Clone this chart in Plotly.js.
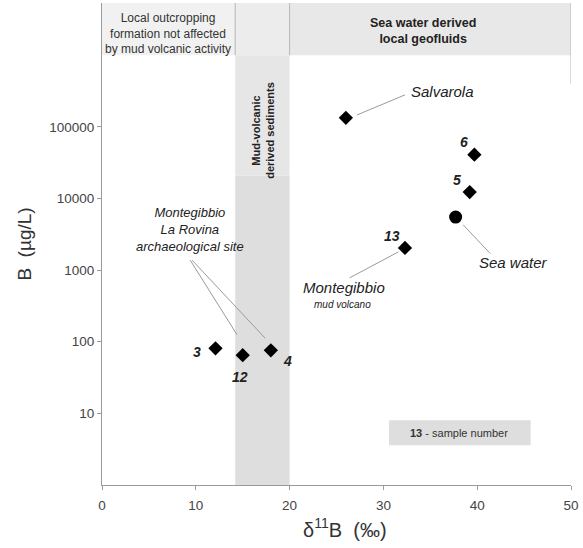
<!DOCTYPE html>
<html>
<head>
<meta charset="utf-8">
<script src="https://cdn.plot.ly/plotly-3.0.1.min.js"></script>
<style>html,body{margin:0;padding:0;background:#fff;}#chart{width:583px;height:548px;}</style>
</head>
<body>
<div id="chart"></div>
<script>
// Samples (δ11B ‰, B µg/L)
const sampleLabels = ["3", "12", "4", "13", "5", "6", "Salvarola"];
const sampleD11B = [12.1, 15.0, 18.0, 32.3, 39.2, 39.7, 26.0];
const sampleB = [81, 65, 76, 2040, 12300, 41000, 134000];
// Sea water reference
const seaD11B = [37.7];
const seaB = [5500];
// Axis ticks
const yTickVals = [10, 100, 1000, 10000, 100000];
const yTickText = ["10", "100", "1000", "10000", "100000"];
const xTickVals = [0, 10, 20, 30, 40, 50];

const FONT = "Liberation Sans, Arial, sans-serif";
const L = v => Math.log10(v);
const grey = "#9a9a9a";
const TOP = Math.pow(10, 6.73);

const traces = [
  {x: sampleD11B, y: sampleB, type: "scatter", mode: "markers",
   marker: {symbol: "diamond", size: 11, color: "#000"}, hoverinfo: "text", text: sampleLabels},
  {x: seaD11B, y: seaB, type: "scatter", mode: "markers",
   marker: {symbol: "circle", size: 13, color: "#000"}}
];

// shapes on a log axis take data values
const shapes = [
  // mud-volcanic band
  {type: "rect", xref: "x", yref: "y", x0: 14.2, x1: 20, y0: 1, y1: 21000, fillcolor: "#dedede", line: {width: 0}, layer: "below"},
  {type: "rect", xref: "x", yref: "y", x0: 14.2, x1: 20, y0: 21000, y1: 1e6, fillcolor: "#e6e6e6", line: {width: 0}, layer: "below"},
  // header boxes
  {type: "rect", xref: "x", yref: "y", x0: 0, x1: 14.2, y0: 1e6, y1: TOP, fillcolor: "#f1f1f1", line: {width: 0}, layer: "below"},
  {type: "rect", xref: "x", yref: "y", x0: 14.2, x1: 20, y0: 1e6, y1: TOP, fillcolor: "#ececec", line: {width: 0}, layer: "below"},
  {type: "rect", xref: "x", yref: "y", x0: 20, x1: 50, y0: 1e6, y1: TOP, fillcolor: "#e8e8e8", line: {width: 0}, layer: "below"},
  {type: "line", xref: "x", yref: "y", x0: 14.2, x1: 14.2, y0: 1e6, y1: TOP, line: {color: "#b5b5b5", width: 1}},
  {type: "line", xref: "x", yref: "y", x0: 20, x1: 20, y0: 1e6, y1: TOP, line: {color: "#b5b5b5", width: 1}},
  {type: "line", xref: "x", yref: "y", x0: 50, x1: 50, y0: 4e5, y1: TOP, line: {color: "#b5b5b5", width: 1}},
  // sample-number legend box
  {type: "rect", xref: "x", yref: "y", x0: 30.6, x1: 45.7, y0: 3.6, y1: 8.0, fillcolor: "#dedede", line: {width: 0}, layer: "below"},
  // leader lines
  {type: "line", xref: "x", yref: "y", x0: 27.2, y0: 147000, x1: 32.3, y1: 280000, line: {color: grey, width: 1}},
  {type: "line", xref: "x", yref: "y", x0: 38.5, y0: 4300, x1: 41.4, y1: 1700, line: {color: grey, width: 1}},
  {type: "line", xref: "x", yref: "y", x0: 31.6, y0: 1800, x1: 26.4, y1: 780, line: {color: grey, width: 1}},
  {type: "line", xref: "x", yref: "y", x0: 9.4, y0: 1380, x1: 14.4, y1: 125, line: {color: grey, width: 1}},
  {type: "line", xref: "x", yref: "y", x0: 9.6, y0: 1380, x1: 17.4, y1: 112, line: {color: grey, width: 1}}
];

const it = (txt, x, y, size, extra) => Object.assign({
  text: txt, xref: "x", yref: "y", x: x, y: y, showarrow: false,
  font: {family: FONT, size: size, color: "#222"}
}, extra || {});

// annotations on a log axis take log10 values
const annotations = [
  it("Local outcropping<br>formation not affected<br>by mud volcanic activity", 7.0, 6.31, 12, {font: {family: FONT, size: 12, color: "#333"}}),
  it("<b>Sea water derived<br>local geofluids</b>", 34.2, 6.34, 12.5, {font: {family: FONT, size: 12.5, color: "#222"}}),
  it("<b>Mud-volcanic<br>derived sediments</b>", 17.2, 4.95, 11, {textangle: -90, font: {family: FONT, size: 11, color: "#222"}}),
  it("<i>Salvarola</i>", 36.3, 5.49, 15),
  it("<i>Sea water</i>", 43.9, L(1260), 15),
  it("<i>Montegibbio</i>", 25.8, L(580), 15),
  it("<i>mud volcano</i>", 25.6, L(330), 10),
  it("<i>Montegibbio<br>La Rovina<br>archaeological site</i>", 9.4, 3.57, 13),
  it("<b><i>6</i></b>", 38.6, L(62000), 14),
  it("<b><i>5</i></b>", 37.8, L(18000), 14),
  it("<b><i>13</i></b>", 30.9, L(3000), 14),
  it("<b><i>3</i></b>", 10.1, L(72), 14),
  it("<b><i>12</i></b>", 14.7, L(32), 14),
  it("<b><i>4</i></b>", 19.8, L(54), 14),
  it("<b>13</b> - sample number", 38.1, L(5.4), 11, {font: {family: FONT, size: 11, color: "#333"}})
];

const layout = {
  width: 583, height: 548,
  margin: {l: 102, r: 12, t: 3, b: 63},
  paper_bgcolor: "#fff", plot_bgcolor: "#fff",
  showlegend: false,
  font: {family: FONT, color: "#333"},
  xaxis: {
    range: [0, 50], tickvals: xTickVals, showgrid: false, zeroline: false,
    showline: true, linecolor: grey, linewidth: 1,
    ticks: "outside", ticklen: 4, tickcolor: grey, ticklabelstandoff: 4,
    tickfont: {family: FONT, size: 13.5, color: "#444"},
    title: {text: "&nbsp;&nbsp;&nbsp;δ<sup>11</sup>B&nbsp;&nbsp;(‰)", font: {family: FONT, size: 20, color: "#333"}, standoff: 10}
  },
  yaxis: {
    type: "log", range: [0, 6.73], tickvals: yTickVals, ticktext: yTickText,
    showgrid: false, zeroline: false,
    showline: true, linecolor: grey, linewidth: 1,
    ticks: "outside", ticklen: 4, tickcolor: grey,
    tickfont: {family: FONT, size: 13.5, color: "#444"},
    title: {text: "B&nbsp;&nbsp;(µg/L)", font: {family: FONT, size: 19, color: "#333"}, standoff: 12}
  },
  shapes: shapes,
  annotations: annotations
};

Plotly.newPlot("chart", traces, layout, {displayModeBar: false, staticPlot: true});
</script>
</body>
</html>
